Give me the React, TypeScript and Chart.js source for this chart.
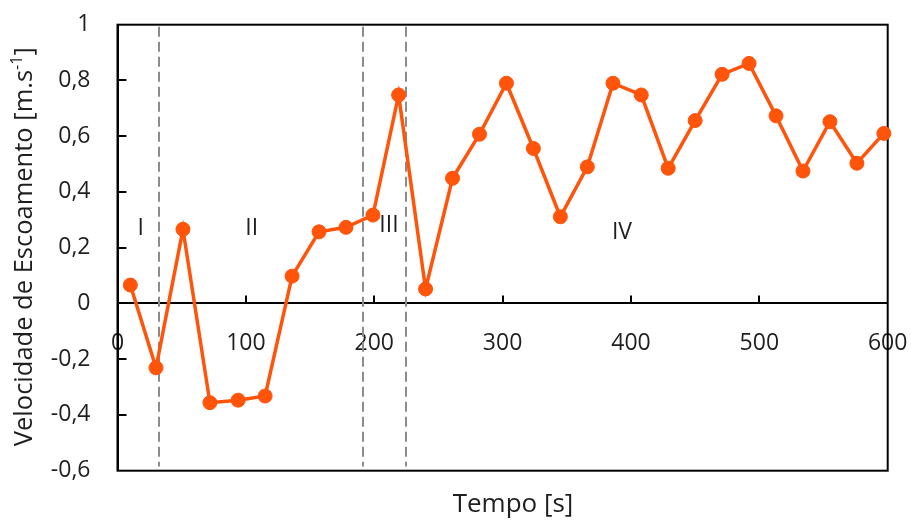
import React, { useEffect, useRef } from "react";
import { Chart, registerables } from "chart.js";

Chart.register(...registerables);

// Flow velocity record over time
const tempo = [10, 30, 51, 72, 94, 115, 136, 157, 178, 199, 219, 240, 261, 282, 303, 324, 345, 366, 386, 408, 429, 450, 471, 492, 513, 534, 555, 576, 597];
const velocidade = [0.066, -0.231, 0.266, -0.356, -0.347, -0.332, 0.098, 0.257, 0.273, 0.317, 0.748, 0.052, 0.449, 0.607, 0.79, 0.556, 0.311, 0.49, 0.79, 0.748, 0.485, 0.656, 0.822, 0.861, 0.673, 0.475, 0.652, 0.503, 0.61];

const xTicks = [0, 100, 200, 300, 400, 500, 600];
const yTicks = [-0.6, -0.4, -0.2, 0, 0.2, 0.4, 0.6, 0.8, 1];

// Phase boundaries (s) and phase labels
const phaseBoundaries = [32, 191.5, 225];
const phaseNames = ["I", "II", "III", "IV"];
const phaseNameX = [18, 104.5, 211.5, 393];
const phaseNameY = [0.27, 0.27, 0.28, 0.253];

const FONT = "'Open Sans', 'Noto Sans', sans-serif";
const TEXT = "#1f1f1f";
const ORANGE = "#FF540A";
const TICK_SIZE = 23;
const TITLE_SIZE = 26;
const Y_TITLE_SIZE = 25.5;

const fmt = (v: number) => {
  if (Math.abs(v - Math.round(v)) < 1e-9) return String(Math.round(v));
  return v.toFixed(1).replace(".", ",");
};

// keep axis label overhang from shrinking the plot area
const noOverhang = (s: any) => {
  s.paddingTop = 0;
  s.paddingBottom = 0;
  s.paddingLeft = 0;
  s.paddingRight = 0;
};

const decorations = {
  id: "decorations",
  beforeDatasetsDraw(chart: any) {
    const { ctx, chartArea } = chart;
    const xs = chart.scales.x;
    const ys = chart.scales.y;
    ctx.save();
    // dashed phase boundaries
    ctx.strokeStyle = "#8c8c8c";
    ctx.lineWidth = 2;
    ctx.setLineDash([10, 5]);
    phaseBoundaries.forEach((t) => {
      const px = Math.round(xs.getPixelForValue(t));
      ctx.beginPath();
      ctx.moveTo(px, chartArea.top + 2);
      ctx.lineTo(px, ys.getPixelForValue(-0.585));
      ctx.stroke();
    });
    ctx.setLineDash([]);
    // plot frame
    ctx.strokeStyle = "#000";
    ctx.lineWidth = 2;
    ctx.strokeRect(chartArea.left, chartArea.top, chartArea.right - chartArea.left, chartArea.bottom - chartArea.top);
    // inward tick marks
    const zeroY = ys.getPixelForValue(0);
    ctx.beginPath();
    yTicks.slice(1, -1).forEach((v) => {
      const py = Math.round(ys.getPixelForValue(v));
      ctx.moveTo(chartArea.left, py);
      ctx.lineTo(chartArea.left + 9, py);
    });
    xTicks.slice(1, -1).forEach((v) => {
      const px = Math.round(xs.getPixelForValue(v));
      ctx.moveTo(px, zeroY);
      ctx.lineTo(px, zeroY - 8);
    });
    ctx.stroke();
    // phase labels
    ctx.fillStyle = TEXT;
    ctx.font = `${TICK_SIZE}px ${FONT}`;
    ctx.textAlign = "center";
    ctx.textBaseline = "middle";
    phaseNames.forEach((n, i) => {
      ctx.fillText(n, xs.getPixelForValue(phaseNameX[i]), ys.getPixelForValue(phaseNameY[i]));
    });
    ctx.restore();
  },
  afterDraw(chart: any) {
    const { ctx } = chart;
    ctx.save();
    ctx.fillStyle = TEXT;
    ctx.textBaseline = "alphabetic";
    // x axis title
    ctx.font = `${TITLE_SIZE}px ${FONT}`;
    ctx.textAlign = "center";
    ctx.fillText("Tempo [s]", 513, 511.5);
    // y axis title with superscript unit
    const main = "Velocidade de Escoamento [m.s";
    const sup = "-1";
    const end = "]";
    const supSize = Math.round(Y_TITLE_SIZE * 0.62);
    ctx.font = `${Y_TITLE_SIZE}px ${FONT}`;
    const w1 = ctx.measureText(main).width;
    const w3 = ctx.measureText(end).width;
    ctx.font = `${supSize}px ${FONT}`;
    const w2 = ctx.measureText(sup).width;
    const total = w1 + w2 + w3;
    ctx.translate(31.5, 246.7);
    ctx.rotate(-Math.PI / 2);
    ctx.textAlign = "left";
    let x0 = -total / 2;
    ctx.font = `${Y_TITLE_SIZE}px ${FONT}`;
    ctx.fillText(main, x0, 0);
    x0 += w1;
    ctx.font = `${supSize}px ${FONT}`;
    ctx.fillText(sup, x0, -10);
    x0 += w2;
    ctx.font = `${Y_TITLE_SIZE}px ${FONT}`;
    ctx.fillText(end, x0, 0);
    ctx.restore();
  },
};

export default function App() {
  const canvasRef = useRef<HTMLCanvasElement | null>(null);

  useEffect(() => {
    const canvas = canvasRef.current;
    if (!canvas) return;
    const chart = new Chart(canvas, {
      type: "line",
      data: {
        datasets: [
          {
            data: tempo.map((t, i) => ({ x: t, y: velocidade[i] })),
            borderColor: ORANGE,
            backgroundColor: ORANGE,
            borderWidth: 3.5,
            pointRadius: 7,
            pointBorderWidth: 1,
            pointBackgroundColor: ORANGE,
            pointBorderColor: ORANGE,
            tension: 0,
            clip: false as any,
          },
        ],
      },
      options: {
        responsive: false,
        animation: false,
        devicePixelRatio: 1,
        layout: { padding: { top: 24.7, right: 23.3, bottom: 49.3, left: 0 } },
        plugins: {
          legend: { display: false },
          tooltip: { enabled: false },
        },
        scales: {
          x: {
            type: "linear",
            min: 0,
            max: 600,
            position: { y: 0 } as any,
            afterBuildTicks: (s: any) => {
              s.ticks = xTicks.map((v) => ({ value: v }));
            },
            afterFit: noOverhang,
            grid: { display: false, drawTicks: false },
            border: { display: true, color: "#000", width: 2 },
            ticks: {
              padding: 26,
              autoSkip: false,
              maxRotation: 0,
              color: TEXT,
              font: { family: FONT, size: TICK_SIZE },
              callback: (v: any) => String(v),
            },
          },
          y: {
            type: "linear",
            min: -0.6,
            max: 1,
            position: "left",
            afterBuildTicks: (s: any) => {
              s.ticks = yTicks.map((v) => ({ value: v }));
            },
            afterFit: (s: any) => {
              noOverhang(s);
              s.width = 117.5;
            },
            grid: { display: false, drawTicks: false },
            border: { display: true, color: "#000", width: 2 },
            ticks: {
              padding: 27,
              color: TEXT,
              font: { family: FONT, size: TICK_SIZE },
              callback: (v: any) => fmt(Number(v)),
            },
          },
        },
      },
      plugins: [decorations],
    });
    return () => chart.destroy();
  }, []);

  return (
    <div style={{ position: "absolute", left: 0, top: 0, width: 911, height: 520, background: "#fff" }}>
      <canvas ref={canvasRef} width={911} height={520} style={{ width: 911, height: 520 }} />
    </div>
  );
}
